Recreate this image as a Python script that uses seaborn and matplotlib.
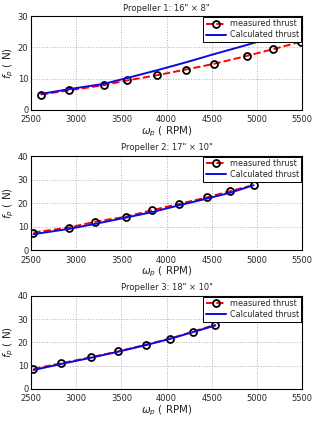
import matplotlib
matplotlib.use("Agg")
import matplotlib.pyplot as plt
import seaborn as sns

# propeller 1: 16" x 8"
rpm_1 = [2611, 2916, 3305, 3565, 3899, 4214, 4522, 4893, 5179, 5483]
meas_1 = [4.9, 6.2, 7.9, 9.4, 11.1, 12.9, 14.7, 17.3, 19.4, 21.8]
calc_1 = [5.1, 6.6, 8.3, 10.2, 12.7, 15.2, 17.8, 20.8, 23.3, 26.0]

# propeller 2: 17" x 10"
rpm_2 = [2526, 2916, 3212, 3546, 3843, 4133, 4444, 4704, 4964]
meas_2 = [7.5, 9.6, 12.1, 14.2, 17.0, 19.6, 22.4, 25.1, 27.7]
calc_2 = [6.8, 9.0, 11.2, 13.8, 16.2, 19.0, 21.9, 24.4, 27.6]

# propeller 3: 18" x 10"
rpm_3 = [2526, 2834, 3164, 3465, 3769, 4036, 4289, 4541]
meas_3 = [8.6, 11.0, 13.6, 16.1, 19.0, 21.6, 24.6, 27.6]
calc_3 = [8.1, 10.7, 13.4, 16.0, 18.8, 21.5, 24.4, 27.3]

titles = ['Propeller 1: 16" \u00d7 8"', 'Propeller 2: 17" \u00d7 10"', 'Propeller 3: 18" \u00d7 10"']
ymax = [30, 40, 40]

sns.set_style("whitegrid", {"grid.linestyle": ":", "grid.color": "#b0b0b0",
                            "axes.edgecolor": "black"})
plt.rcParams['font.family'] = ['DejaVu Sans']
plt.rcParams['mathtext.fontset'] = 'dejavusans'
plt.rcParams['grid.linewidth'] = 0.7

fig = plt.figure(figsize=(3.14, 4.24), dpi=100)
boxes = [(0.099, 0.741, 0.863, 0.221),
         (0.099, 0.410, 0.863, 0.222),
         (0.099, 0.083, 0.863, 0.219)]

data = [(rpm_1, meas_1, calc_1), (rpm_2, meas_2, calc_2), (rpm_3, meas_3, calc_3)]

for i, (rpm, meas, calc) in enumerate(data):
    ax = fig.add_axes(boxes[i])
    sns.lineplot(x=rpm, y=meas, ax=ax, color="red", linestyle="--", linewidth=1.4,
                 marker="o", markersize=5, markerfacecolor="none",
                 markeredgecolor="black", markeredgewidth=1.3,
                 label="measured thrust", sort=False)
    sns.lineplot(x=rpm, y=calc, ax=ax, color="#0a0ae0", linewidth=1.4,
                 label="Calculated thrust", sort=False)
    ax.set_xlim(2500, 5500)
    ax.set_ylim(0, ymax[i])
    ax.set_xticks(range(2500, 5501, 500))
    ax.set_yticks(range(0, ymax[i] + 1, 10))
    ax.tick_params(axis="x", labelsize=6, pad=4, length=0)
    ax.tick_params(axis="y", labelsize=6, pad=2, length=0)
    ax.set_title(titles[i], fontsize=6, pad=4)
    ax.set_xlabel(r"$\omega_p$ ( RPM)", fontsize=7.5, labelpad=0)
    ax.set_ylabel(r"$f_p$ ( N)", fontsize=7.5, labelpad=1)
    for s in ax.spines.values():
        s.set_linewidth(0.8)
    leg = ax.legend(loc="upper right", fontsize=5.8, frameon=True, fancybox=False,
                    borderpad=0.3, labelspacing=0.25, handlelength=2.6,
                    handletextpad=0.4, borderaxespad=0.1)
    leg.get_frame().set_edgecolor("black")
    leg.get_frame().set_linewidth(0.7)
    leg.get_frame().set_alpha(1)

fig.savefig("out.png", dpi=100)
